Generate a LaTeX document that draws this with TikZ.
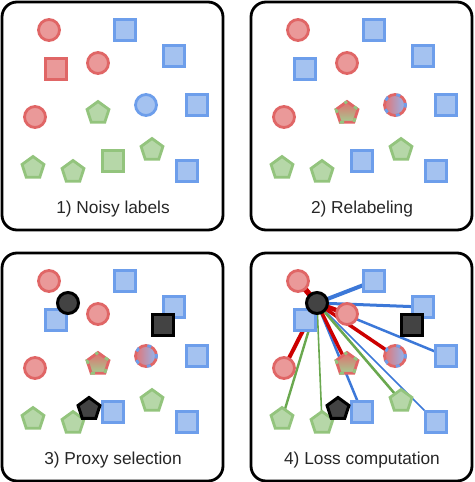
\documentclass[tikz,border=0pt]{standalone}
\usepackage{fontspec}
\setmainfont{Liberation Sans}
\usepackage{xcolor}
\usepackage{tikz}
\usetikzlibrary{shapes.geometric, positioning, backgrounds}
\definecolor{gred}{HTML}{EA9999}
\definecolor{gredline}{HTML}{E06666}
\definecolor{gblue}{HTML}{A4C2F0}
\definecolor{gblueline}{HTML}{6D9EEB}
\definecolor{ggreen}{HTML}{B6D7A8}
\definecolor{ggreenline}{HTML}{93C47D}
\definecolor{gdark}{HTML}{434343}
\definecolor{lred}{HTML}{CC0000}
\definecolor{lblue}{HTML}{3C78D8}
\definecolor{lgreen}{HTML}{6AA84F}

% the relabeled points, #1 = panel prefix
\newcommand{\relabeledset}[1]{%
\foreach \nm/\x/\y/\s in {a/49/30/redcirc, b/125/30/bluesq, c/174/56/bluesq,
    d/56/69/bluesq, e/98/63/redcirc, f/35/117/redcirc, g/98/113/mixpent,
    h/146/105/mixcirc, i/197/105/bluesq, j/33/168/greenpent, k/73/172/greenpent,
    l/113/161/bluesq, m/152/150/greenpent, n/187/171/bluesq} {
    \node[\s] (#1\nm) at (\x,\y) {};
}}

\begin{document}
\begin{tikzpicture}[x=1pt, y=-1pt,
    pt/.style={inner sep=0pt, outer sep=0pt, line width=2.8pt},
    redcirc/.style={pt, circle, minimum size=21pt, draw=gredline, fill=gred},
    bluecirc/.style={pt, circle, minimum size=21pt, draw=gblueline, fill=gblue},
    redsq/.style={pt, rectangle, minimum size=20.5pt, draw=gredline, fill=gred},
    bluesq/.style={pt, rectangle, minimum size=20.5pt, draw=gblueline, fill=gblue},
    greensq/.style={pt, rectangle, minimum size=20.5pt, draw=ggreenline, fill=ggreen},
    greenpent/.style={pt, regular polygon, regular polygon sides=5, minimum size=23pt, draw=ggreenline, fill=ggreen},
    mixcirc/.style={pt, circle, minimum size=21pt, draw=gredline, left color=gredline!90, right color=gblueline!75,
        postaction={draw=gblueline, dash pattern=on 4pt off 9pt, dash phase=2pt}},
    mixpent/.style={pt, regular polygon, regular polygon sides=5, minimum size=23pt, draw=gredline,
        top color=gredline!95, bottom color=ggreenline!85, postaction={draw=ggreenline, dash pattern=on 4pt off 10pt, dash phase=1pt}},
    darkcirc/.style={pt, circle, minimum size=21pt, line width=3pt, draw=black, fill=gdark},
    darksq/.style={pt, rectangle, minimum size=20.5pt, line width=3pt, draw=black, fill=gdark},
    darkpent/.style={pt, regular polygon, regular polygon sides=5, minimum size=23pt, line width=3pt, draw=black, fill=gdark},
    panel/.style={line width=2.8pt, rounded corners=15pt},
    caption/.style={font=\fontsize{17.3}{20}\selectfont, text=black!85}]
\useasboundingbox (0,0) rectangle (474,482);

% Step 1: Noisy labels
\draw[panel] (2,2) rectangle (223,230);
\foreach \nm/\x/\y/\s in {a/49/30/redcirc, b/125/30/bluesq, c/174/56/bluesq,
    d/56/69/redsq, e/98/63/redcirc, f/35/117/redcirc, g/98/113/greenpent,
    h/146/105/bluecirc, i/197/105/bluesq, j/33/168/greenpent, k/73/172/greenpent,
    l/113/161/greensq, m/152/150/greenpent, n/187/171/bluesq} {
    \node[\s] (p1\nm) at (\x,\y) {};
}
\node[caption] (lab1) at (113,209) {1) Noisy labels};

% Step 2: Relabeling
\begin{scope}[shift={(249,0)}]
\draw[panel] (2,2) rectangle (223,230);
\relabeledset{p2}
\node[caption] (lab2) at (113,209) {2) Relabeling};
\end{scope}

% Step 3: Proxy selection
\begin{scope}[shift={(0,251)}]
\draw[panel] (2,2) rectangle (223,230);
\relabeledset{p3}
\node[darkcirc] (p3pc) at (68,52) {};
\node[darksq] (p3ps) at (163,74) {};
\node[darkpent] (p3pp) at (89,158) {};
\node[caption] (lab3) at (113,209) {3) Proxy selection};
\end{scope}

% Step 4: Loss computation
\begin{scope}[shift={(249,251)}]
\draw[panel] (2,2) rectangle (223,230);
\relabeledset{p4}
\node[darkcirc] (p4pc) at (68,52) {};
\node[darksq] (p4ps) at (163,74) {};
\node[darkpent] (p4pp) at (89,158) {};
\node[caption] (lab4) at (113,209) {4) Loss computation};
\end{scope}
\begin{scope}[on background layer]
\foreach \t/\c/\w in {b/lblue/4, c/lblue/3, d/lblue/3, i/lblue/2.5, l/lblue/2.5,
    n/lblue/1.6, j/lgreen/2.4, k/lgreen/1.6, m/lgreen/2.6,
    a/lred/5.5, e/lred/4.5, f/lred/4, g/lred/3.5, h/lred/3.5} {
    \draw[\c, line width=\w pt] (p4pc.center) -- (p4\t.center);
}
\end{scope}
\end{tikzpicture}
\end{document}
